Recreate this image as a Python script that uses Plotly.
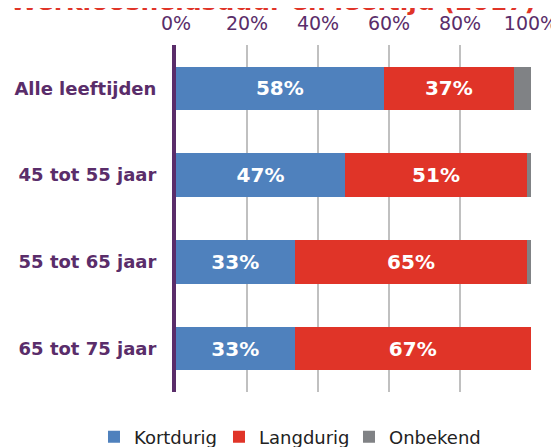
import plotly.graph_objects as go

categories = ["Alle leeftijden", "45 tot 55 jaar", "55 tot 65 jaar", "65 tot 75 jaar"]
kortdurig = [58.5, 47.6, 33.4, 33.4]
langdurig = [36.7, 51.3, 65.6, 66.6]
onbekend = [4.8, 1.1, 1.0, 0.0]
kort_labels = ["58%", "47%", "33%", "33%"]
lang_labels = ["37%", "51%", "65%", "67%"]
tick_vals = [0, 20, 40, 60, 80, 100]
tick_text = ["0%", "20%", "40%", "60%", "80%", "100%"]
title_text = "Werkloosheidsduur en leeftijd (2017)"

purple = "#5a2d6a"
font_family = "DejaVu Sans"

fig = go.Figure()
fig.add_trace(go.Bar(y=categories, x=kortdurig, name="Kortdurig", orientation="h",
                     marker=dict(color="#4f81bd", line=dict(width=0)),
                     text=kort_labels, textposition="inside", insidetextanchor="middle",
                     textangle=0, legendwidth=80,
                     textfont=dict(color="white", size=20, family=font_family, weight="bold"),
                     hoverinfo="skip"))
fig.add_trace(go.Bar(y=categories, x=langdurig, name="Langdurig", orientation="h",
                     marker=dict(color="#e03428", line=dict(width=0)),
                     text=lang_labels, textposition="inside", insidetextanchor="middle",
                     textangle=0, legendwidth=85,
                     textfont=dict(color="white", size=20, family=font_family, weight="bold"),
                     hoverinfo="skip"))
fig.add_trace(go.Bar(y=categories, x=onbekend, name="Onbekend", orientation="h",
                     marker=dict(color="#808285", line=dict(width=0)),
                     legendwidth=95,
                     textposition="none", hoverinfo="skip"))

fig.update_layout(
    barmode="stack",
    bargap=0.5,
    width=559, height=447,
    margin=dict(l=168, r=36, t=37, b=63, autoexpand=False),
    paper_bgcolor="white", plot_bgcolor="white",
    font=dict(family=font_family, color=purple),
    showlegend=True,
    legend=dict(orientation="h", x=-0.231, xanchor="left",
                y=-0.13, yanchor="middle",
                font=dict(size=18, color="#222222", family=font_family),
                itemwidth=30, traceorder="normal", tracegroupgap=0),
    xaxis=dict(range=[0, 100], side="top", tickvals=tick_vals, ticktext=tick_text,
               showgrid=True, gridcolor="#c0c0c0", gridwidth=2, zeroline=False,
               ticks="outside", ticklen=6, tickcolor="rgba(0,0,0,0)",
               tickfont=dict(size=19, color=purple, family=font_family),
               showline=False, fixedrange=True, automargin=False),
    yaxis=dict(autorange="reversed", showline=True, linecolor=purple, linewidth=4,
               ticks="outside", ticklen=12, tickcolor="rgba(0,0,0,0)",
               tickfont=dict(size=18, color=purple, family=font_family, weight="bold"),
               showgrid=False, zeroline=False, fixedrange=True, automargin=False),
    annotations=[dict(text=title_text, xref="paper", yref="paper", x=-0.473, y=1.078,
                      xanchor="left", yanchor="bottom", showarrow=False,
                      font=dict(size=25, color="#e03428", family=font_family, weight="bold"))],
)

fig.write_html("out.html")
